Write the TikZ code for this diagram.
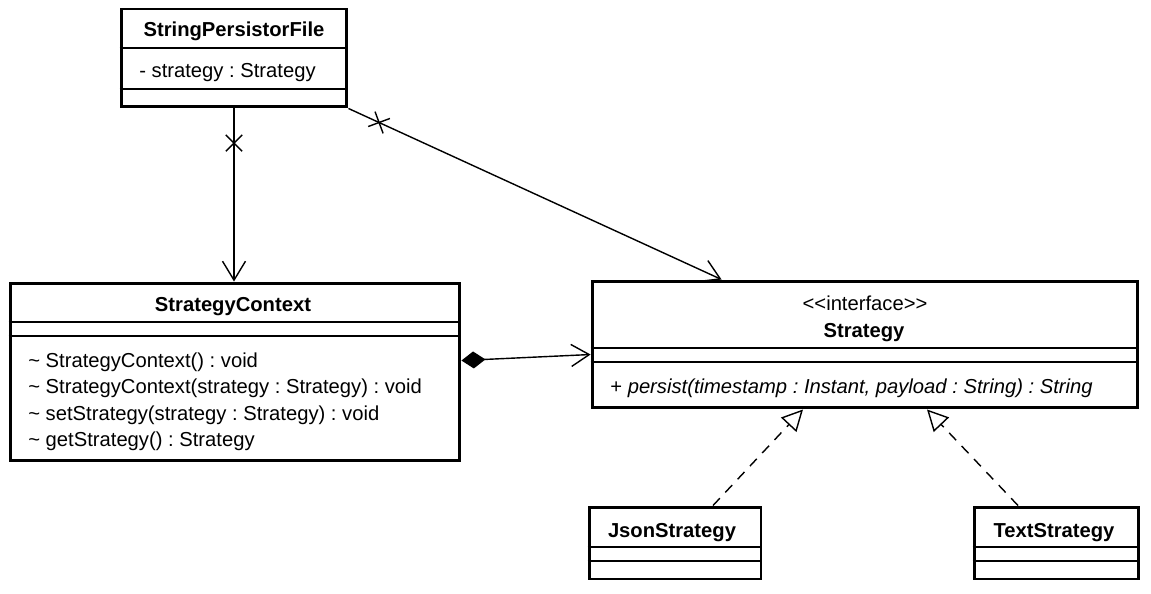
\documentclass[tikz,border=0pt]{standalone}
\usepackage{fontspec}
\setmainfont{Liberation Sans}
\usetikzlibrary{arrows.meta,calc,shapes.misc}
\frenchspacing

\tikzset{
  classbox/.style={draw, line width=1.7pt, inner sep=0pt},
  sepline/.style={line width=1.1pt},
  link/.style={line width=0.8pt},
  openarrow/.style={-{Straight Barb[length=0.38cm,width=0.46cm]}},
  realize/.style={link, dash pattern=on 0.2cm off 0.16cm, -{Triangle[open,length=0.42cm,width=0.42cm]}},
  xmark/.style={cross out, draw, line width=0.8pt, minimum size=0.3cm, inner sep=0pt},
  every node/.append style={font=\fontsize{11.5}{14}\selectfont, inner sep=0pt}
}

\begin{document}
\begin{tikzpicture}[x=0.02cm, y=-0.02cm]
\useasboundingbox (0,0) rectangle (1151,594);

% classes
\node[classbox, minimum width=4.52cm, minimum height=1.96cm] (spf) at (234,58) {};
\node[classbox, minimum width=9.0cm, minimum height=3.56cm] (sc) at (235,372) {};
\node[classbox, minimum width=10.92cm, minimum height=2.54cm] (strat) at (865,344.5) {};
\node[classbox, minimum width=3.44cm, minimum height=1.44cm] (json) at (675,543) {};
\node[classbox, minimum width=3.28cm, minimum height=1.44cm] (textstrat) at (1056,543) {};

% compartments
\draw[sepline] (spf.west |- 0,48) -- (spf.east |- 0,48);
\draw[sepline] (spf.west |- 0,89) -- (spf.east |- 0,89);
\draw[sepline] (sc.west |- 0,322) -- (sc.east |- 0,322);
\draw[sepline] (sc.west |- 0,336) -- (sc.east |- 0,336);
\draw[sepline] (strat.west |- 0,348) -- (strat.east |- 0,348);
\draw[sepline] (strat.west |- 0,362) -- (strat.east |- 0,362);
\draw[sepline] (json.west |- 0,547) -- (json.east |- 0,547);
\draw[sepline] (json.west |- 0,561) -- (json.east |- 0,561);
\draw[sepline] (textstrat.west |- 0,547) -- (textstrat.east |- 0,547);
\draw[sepline] (textstrat.west |- 0,561) -- (textstrat.east |- 0,561);

% texts
\node[anchor=base, font=\fontsize{11.5}{14}\selectfont\bfseries] (spfname) at (234,37) {StringPersistorFile};
\node[anchor=base west] (spfattr) at (139,78) {- strategy : Strategy};

\node[anchor=base, font=\fontsize{11.5}{14}\selectfont\bfseries] (scname) at (233,311) {StrategyContext};
\node[anchor=base west] (scop1) at (28,367) {\textasciitilde{} StrategyContext() : void};
\node[anchor=base west] (scop2) at (28,393) {\textasciitilde{} StrategyContext(strategy : Strategy) : void};
\node[anchor=base west] (scop3) at (28,420) {\textasciitilde{} setStrategy(strategy : Strategy) : void};
\node[anchor=base west] (scop4) at (28,446) {\textasciitilde{} getStrategy() : Strategy};

\node[anchor=base] (stratstereo) at (865,310) {<{}<interface>{}>};
\node[anchor=base, font=\fontsize{11.5}{14}\selectfont\bfseries] (stratname) at (864,337) {Strategy};
\node[anchor=base west] (stratop) at (610,393) {+ \textit{persist(timestamp : Instant, payload : String) : String}};

\node[anchor=base, font=\fontsize{11.5}{14}\selectfont\bfseries] (jsonname) at (672,537) {JsonStrategy};
\node[anchor=base, font=\fontsize{11.5}{14}\selectfont\bfseries] (textname) at (1054,537) {TextStrategy};

% relations
\coordinate (stratin) at ($(strat.north west)+(131,0)$);
\draw[link, openarrow] (spf.south) -- (spf.south |- sc.north) node[pos=0.2, sloped, xmark] {};
\draw[link, openarrow] (spf.south east) -- (stratin) node[pos=0.082, sloped, xmark] {};
\draw[link, {Diamond[length=0.48cm,width=0.34cm]}-{Straight Barb[length=0.36cm,width=0.44cm]}] ($(sc.north east)+(0,79)$) -- ($(strat.north west)+(0,75)$);
\draw[realize] ($(json.north)+(38,0)$) -- ($(strat.south)+(-62,0)$);
\draw[realize] ($(textstrat.north)+(-38,0)$) -- ($(strat.south)+(62,0)$);
\end{tikzpicture}
\end{document}
